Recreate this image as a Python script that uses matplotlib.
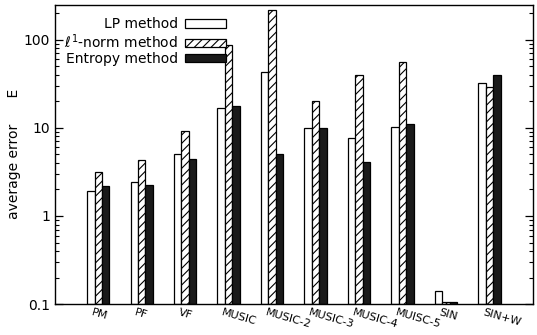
import numpy as np
from matplotlib import pyplot as plt

categories = ["PM", "PF", "VF", "MUSIC", "MUSIC-2", "MUSIC-3",
              "MUSIC-4", "MUISC-5", "SIN", "SIN+W"]
lp_err = [1.92, 2.43, 5.0, 16.7, 42.5, 10.0, 7.7, 10.3, 0.14, 32.5]
l1_err = [3.14, 4.3, 9.3, 86.0, 219.0, 20.3, 39.8, 56.0, 0.106, 29.0]
entropy_err = [2.19, 2.23, 4.4, 17.8, 5.07, 10.0, 4.14, 11.1, 0.105, 39.3]

plt.rcParams['hatch.linewidth'] = 0.8

fig = plt.figure(figsize=(5.37, 3.35), dpi=100)
ax = fig.add_axes([0.102, 0.092, 0.8905, 0.8945])

x = np.arange(len(categories))
w = 0.172
bottom = 0.1
ax.bar(x - w, np.array(lp_err) - bottom, w, bottom=bottom, color="white",
       edgecolor="black", linewidth=0.9, label="LP method")
ax.bar(x, np.array(l1_err) - bottom, w, bottom=bottom, color="white",
       edgecolor="black", linewidth=0.9, hatch="////",
       label=r"$\ell^1$-norm method")
ax.bar(x + w, np.array(entropy_err) - bottom, w, bottom=bottom, color="#1a1a1a",
       edgecolor="black", linewidth=0.9, label="Entropy method")

ax.set_yscale("log")
ax.set_ylim(0.1, 250)
ax.set_xlim(-1, 10)
ax.set_yticks([0.1, 1, 10, 100])
ax.set_yticklabels(["0.1", "1", "10", "100"], fontsize=10)
ax.tick_params(axis="y", which="both", direction="in", right=True)
ax.tick_params(axis="y", which="major", length=6, width=0.9)
ax.tick_params(axis="y", which="minor", length=3, width=0.8)

# category labels slanted under each group
ax.set_xticks(x - 0.12)
ax.set_xticklabels(categories, rotation=-16, ha="left",
                   rotation_mode="anchor", fontsize=8)
ax.tick_params(axis="x", length=0, pad=2)

for s in ax.spines.values():
    s.set_linewidth(1.0)

ax.set_ylabel("average error      E", fontsize=10, labelpad=2)

ax.legend(loc="upper left", frameon=False, markerfirst=False,
          fontsize=10, handlelength=2.9, handleheight=0.55,
          labelspacing=0.08, borderaxespad=0.3, bbox_to_anchor=(0.0, 0.99),
          handletextpad=0.5)

fig.savefig("out.png", dpi=100)
